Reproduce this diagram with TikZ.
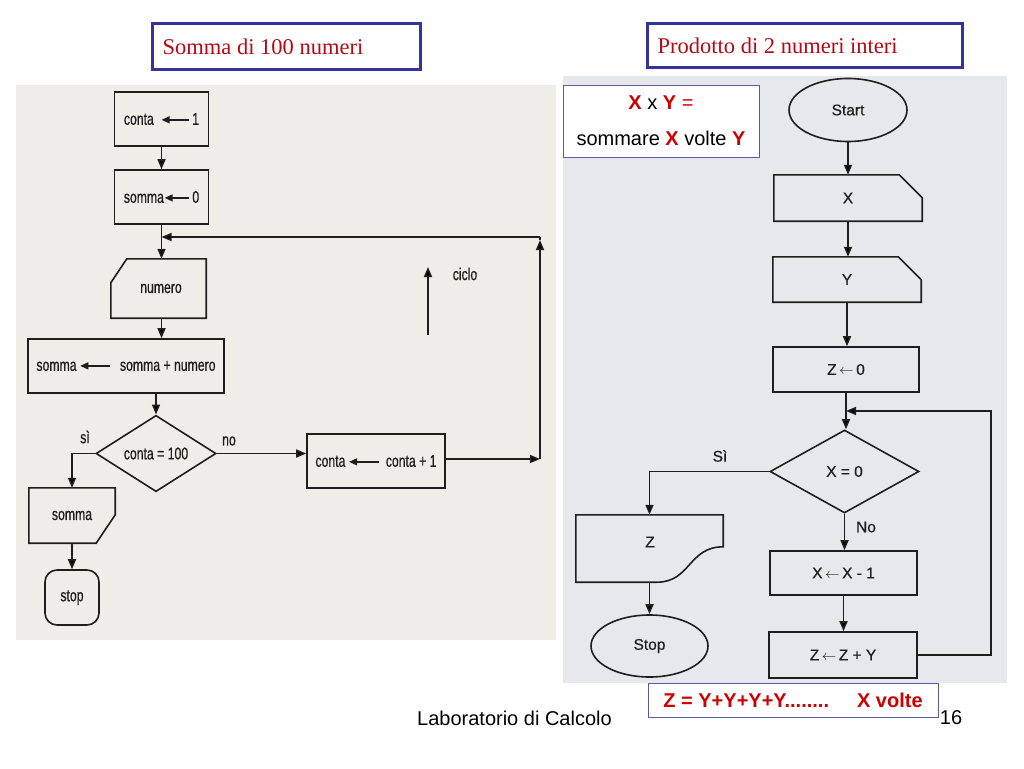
\documentclass[tikz,border=0pt]{standalone}
\usepackage{fontspec}
\setmainfont{Liberation Sans}
\newfontfamily\serifont{Liberation Serif}
\newfontfamily\cond[FakeStretch=0.72,FakeBold=0.6]{Liberation Sans}
\newfontfamily\scanfont[FakeBold=0.5]{Liberation Sans}
\usetikzlibrary{arrows.meta,shapes.geometric,calc}
\definecolor{ink}{RGB}{30,30,30}
\definecolor{leftscan}{RGB}{239,237,231}
\definecolor{rightscan}{RGB}{231,232,236}
\definecolor{titleblue}{RGB}{51,51,153}
\definecolor{infoblue}{RGB}{90,90,170}
\definecolor{titlered}{RGB}{180,10,20}
\definecolor{capred}{RGB}{204,0,0}
\newcommand{\myarr}[1]{\tikz[baseline=-0.55ex]\draw[draw=ink,line width=1.4pt,-{Triangle[length=8pt,width=7pt]}](#1pt,0pt)--(0pt,0pt);}
\tikzset{
  ln/.style={draw=ink, line width=1.6pt},
  arr/.style={draw=ink, line width=1.6pt, -{Triangle[length=10pt,width=8pt]}},
  lbox/.style={rectangle, draw=ink, line width=1.6pt, inner sep=0pt, text=ink, font=\cond\fontsize{17}{19}\selectfont},
  lshape/.style={rectangle, draw=none, inner sep=0pt, text=ink, font=\cond\fontsize{17}{19}\selectfont},
  llabel/.style={text=ink, inner sep=0pt, font=\cond\fontsize{17}{19}\selectfont},
  rbox/.style={rectangle, draw=ink, line width=1.6pt, inner sep=0pt, text=ink, font=\scanfont\fontsize{15.5}{17}\selectfont},
  rshape/.style={rectangle, draw=none, inner sep=0pt, text=ink, font=\scanfont\fontsize{15.5}{17}\selectfont},
  rlabel/.style={text=ink, inner sep=0pt, font=\scanfont\fontsize{15.5}{17}\selectfont},
  titlebox/.style={rectangle, draw=titleblue, line width=3pt, fill=white, inner sep=0pt},
  titletext/.style={anchor=west, inner sep=0pt, text=titlered, font=\serifont\fontsize{22.5}{25}\selectfont},
  infobox/.style={rectangle, draw=infoblue, line width=1pt, fill=white, inner sep=0pt}
}
\begin{document}
\begin{tikzpicture}[x=1pt,y=-1pt]
\fill[white] (0,0) rectangle (1024,768);
\useasboundingbox (0,0) rectangle (1024,768);
% scanned backgrounds
\fill[leftscan] (16,85) rectangle (556,640);
\fill[rightscan] (563,76) rectangle (1007,683);

% titles
\node[titlebox, minimum width=268, minimum height=45] (t1) at (286,46.5) {};
\node[titletext] (t1t) at ([xshift=12pt]t1.west) {Somma di 100 numeri};
\node[titlebox, minimum width=315, minimum height=43] (t2) at (804.5,45.5) {};
\node[titletext] (t2t) at ([xshift=12pt]t2.west) {Prodotto di 2 numeri interi};

% ===== left flowchart =====
\node[lbox, minimum width=94, minimum height=54] (c1) at (161.5,119) {conta\hspace{7pt}\myarr{27}\hspace{3pt}1};
\node[lbox, minimum width=94, minimum height=54] (c2) at (161.5,197) {somma\myarr{24}\hspace{3pt}0};
\coordinate (j1) at (161.5,237);
\node[lshape, minimum width=95, minimum height=59] (nu) at (158.5,288.5) {\hspace{5pt}numero};
\draw[ln] ($(nu.north west)+(16,0)$) -- (nu.north east) -- (nu.south east) -- (nu.south west) -- ($(nu.north west)+(0,24)$) -- cycle;
\node[lbox, minimum width=196, minimum height=54] (b3) at (126,366) {somma\hspace{3pt}\myarr{30}\hspace{9pt}somma + numero};
\node[diamond, draw=ink, line width=1.6pt, inner sep=0pt, text=ink, font=\cond\fontsize{17}{19}\selectfont, minimum width=120, minimum height=67] (d1) at (156,453.5) {conta = 100};
\node[lbox, minimum width=138, minimum height=54] (b4) at (376,461) {conta\hspace{3pt}\myarr{30}\hspace{6pt}conta + 1};
\node[lshape, minimum width=86, minimum height=55] (so) at (72,515.5) {somma\hspace{6pt}};
\draw[ln] (so.north west) -- (so.north east) -- ($(so.north east)+(0,27)$) -- ($(so.south east)+(-19,0)$) -- (so.south west) -- cycle;
\node[rectangle, rounded corners=12pt, draw=ink, line width=1.6pt, inner sep=0pt, text=ink, font=\cond\fontsize{17}{19}\selectfont, minimum width=54, minimum height=55] (st) at (72,597.5) {stop};
\coordinate (r1) at (540,237);
\coordinate (r2) at (540,459);
\coordinate (cb) at (428,335);
\coordinate (ct) at (428,267);
\node[llabel] (ciclo) at (465,274) {ciclo};
\node[llabel] (si1) at (85,437) {sì};
\node[llabel] (no1) at (229,441) {no};

\draw[arr] (c1.south) -- (c2.north);
\draw[arr] (c2.south) -- (c2.south |- nu.north);
\draw[arr] (nu.south -| c2.south) -- (c2.south |- b3.north);
\draw[arr] (d1.north |- b3.south) -- (d1.north);
\draw[arr] (d1.west) -| (so.north);
\draw[arr] (d1.east) -- (d1.east -| b4.west);
\draw[arr] (so.south) -- (st.north);
\draw[arr] (b4.east |- r2) -- (r2);
\draw[arr] (r2) -- ($(r1)+(0,3)$);
\draw[ln] ($(r1)+(0,3)$) -- (r1);
\draw[arr] (r1) -- (j1);
\draw[arr] (cb) -- (ct);

% ===== right flowchart =====
\node[infobox, minimum width=196, minimum height=72, align=center, font=\fontsize{20}{36}\selectfont] (info) at (661,121)
  {\textcolor{capred}{\textbf{X}} x \textcolor{capred}{\textbf{Y} =}\\ sommare \textcolor{capred}{\textbf{X}} volte \textcolor{capred}{\textbf{Y}}};
\node[ellipse, draw=ink, line width=1.6pt, inner sep=0pt, text=ink, font=\scanfont\fontsize{15.5}{17}\selectfont, minimum width=118, minimum height=63] (start) at (848,110) {Start};
\node[rshape, minimum width=148, minimum height=46] (xb) at (848,198) {X};
\draw[ln] (xb.north west) -- ($(xb.north east)+(-23,0)$) -- ($(xb.north east)+(0,23)$) -- (xb.south east) -- (xb.south west) -- cycle;
\node[rshape, minimum width=148, minimum height=45] (yb) at (847,279.5) {Y};
\draw[ln] (yb.north west) -- ($(yb.north east)+(-23,0)$) -- ($(yb.north east)+(0,23)$) -- (yb.south east) -- (yb.south west) -- cycle;
\node[rbox, minimum width=146, minimum height=45] (z0) at (846,369.5) {Z\,$\leftarrow$\,0};
\node[diamond, draw=ink, line width=1.6pt, inner sep=0pt, text=ink, font=\scanfont\fontsize{15.5}{17}\selectfont, minimum width=149, minimum height=83] (d2) at (844.5,471.5) {X = 0};
\node[rbox, minimum width=147, minimum height=44] (xm) at (843.5,573) {X\,$\leftarrow$\,X - 1};
\node[rbox, minimum width=148, minimum height=46] (zz) at (843,655) {Z\,$\leftarrow$\,Z + Y};
\node[rshape, minimum width=147, minimum height=67] (zd) at (649.5,548.5) {};
\draw[ln] (zd.north west) -- (zd.north east) -- ($(zd.north east)+(0,32)$) .. controls ($(zd.north east)+(-35,32)$) and ($(zd.south west)+(115,0)$) .. ($(zd.south west)+(81,0)$) -- (zd.south west) -- cycle;
\node[rlabel] (zt) at (650,542) {Z};
\node[ellipse, draw=ink, line width=1.6pt, inner sep=0pt, text=ink, font=\scanfont\fontsize{15.5}{17}\selectfont, minimum width=117, minimum height=62] (sr) at (649.5,646) {Stop};
\coordinate (rr1) at (991,655);
\coordinate (rr2) at (991,411);
\node[rlabel] (si2) at (720,456) {Sì};
\node[rlabel] (no2) at (866,527) {No};

\draw[arr] (start.south) -- (start.south |- xb.north);
\draw[arr] (xb.south) -- (xb.south |- yb.north);
\draw[arr] (yb.south) -- (yb.south |- z0.north);
\draw[arr] (z0.south) -- (z0.south |- d2.north);
\draw[arr] (zz.east) -- (rr1) -- (rr2) -- (z0.south |- rr2);
\draw[arr] (d2.west) -| (zd.north);
\draw[arr] (zd.south) -- (sr.north);
\draw[arr] (d2.south) -- (d2.south |- xm.north);
\draw[arr] (xm.south) -- (xm.south |- zz.north);

% caption and footer
\node[infobox, minimum width=290, minimum height=34, text=capred, font=\bfseries\fontsize{20}{22}\selectfont] (cap) at (793,700) {Z = Y+Y+Y+Y........\hspace{28pt}X volte};
\node[anchor=west, inner sep=0pt, text=black, font=\fontsize{20}{22}\selectfont] (lab) at (417,718) {Laboratorio di Calcolo};
\node[inner sep=0pt, text=black, font=\fontsize{20}{22}\selectfont] (pg) at (951,718) {16};
\end{tikzpicture}
\end{document}
